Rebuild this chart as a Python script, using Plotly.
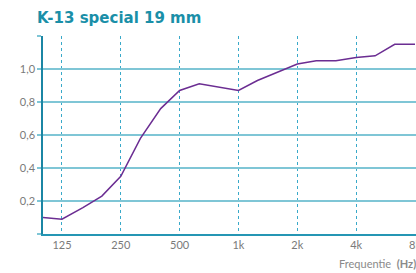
import plotly.graph_objects as go

freqs = [100, 125, 160, 200, 250, 315, 400, 500, 630, 800, 1000, 1250, 1600,
         2000, 2500, 3150, 4000, 5000, 6300, 8000]
alpha = [0.10, 0.09, 0.16, 0.23, 0.35, 0.58, 0.76, 0.87, 0.91, 0.89, 0.87, 0.93, 0.98,
         1.03, 1.05, 1.05, 1.07, 1.08, 1.15, 1.15]
x_ticks = [125, 250, 500, 1000, 2000, 4000, 8000]
x_labels = ["125", "250", "500", "1k", "2k", "4k", "8k"]
y_ticks = [0, 0.2, 0.4, 0.6, 0.8, 1.0, 1.2]
y_labels = ["", "0,2", "0,4", "0,6", "0,8", "1,0", ""]

fig = go.Figure()
fig.add_trace(go.Scatter(x=freqs, y=alpha, mode="lines",
                         line=dict(color="#6b2d92", width=1.5), hoverinfo="skip"))

fig.update_layout(
    width=416, height=273,
    margin=dict(l=43, r=0, t=36, b=39),
    paper_bgcolor="white", plot_bgcolor="white",
    showlegend=False,
    font=dict(family="Lato, Open Sans, sans-serif", size=11, color="#7a7a7a"),
    title=dict(text="K-13 special 19 mm", x=0.089, xanchor="left", y=0.935, yanchor="middle",
               font=dict(family="DejaVu Sans", size=15, color="#1a8fa8", weight="bold")),
    xaxis=dict(type="log", range=[2, 3.9082], tickvals=x_ticks, ticktext=x_labels,
               showgrid=True, gridcolor="#39a9c9", griddash="dot", gridwidth=1,
               showline=True, linecolor="#2596b4", linewidth=1.5,
               ticks="", zeroline=False, automargin=False,
               ticklabeloverflow="allow",
               tickfont=dict(size=11, color="#7a7a7a")),
    yaxis=dict(range=[0, 1.2], tickvals=y_ticks, ticktext=y_labels,
               showgrid=True, gridcolor="#7fc6d6", gridwidth=2,
               showline=True, linecolor="#1b86a4", linewidth=1.5, mirror=True,
               ticks="outside", ticklen=4, tickcolor="#7fc6d6", tickwidth=2,
               zeroline=False, automargin=False,
               tickfont=dict(size=11, color="#7a7a7a")),
)

fig.add_annotation(text="Frequentie  <b>(Hz)</b>", xref="paper", yref="paper",
                   x=0.788, y=-0.15, xanchor="left", yanchor="middle", showarrow=False,
                   font=dict(size=11, color="#8a8a8a"))

fig.write_html("out.html", config={"displayModeBar": False},
               post_script="document.body.style.margin='0';document.body.style.overflow='hidden';")
